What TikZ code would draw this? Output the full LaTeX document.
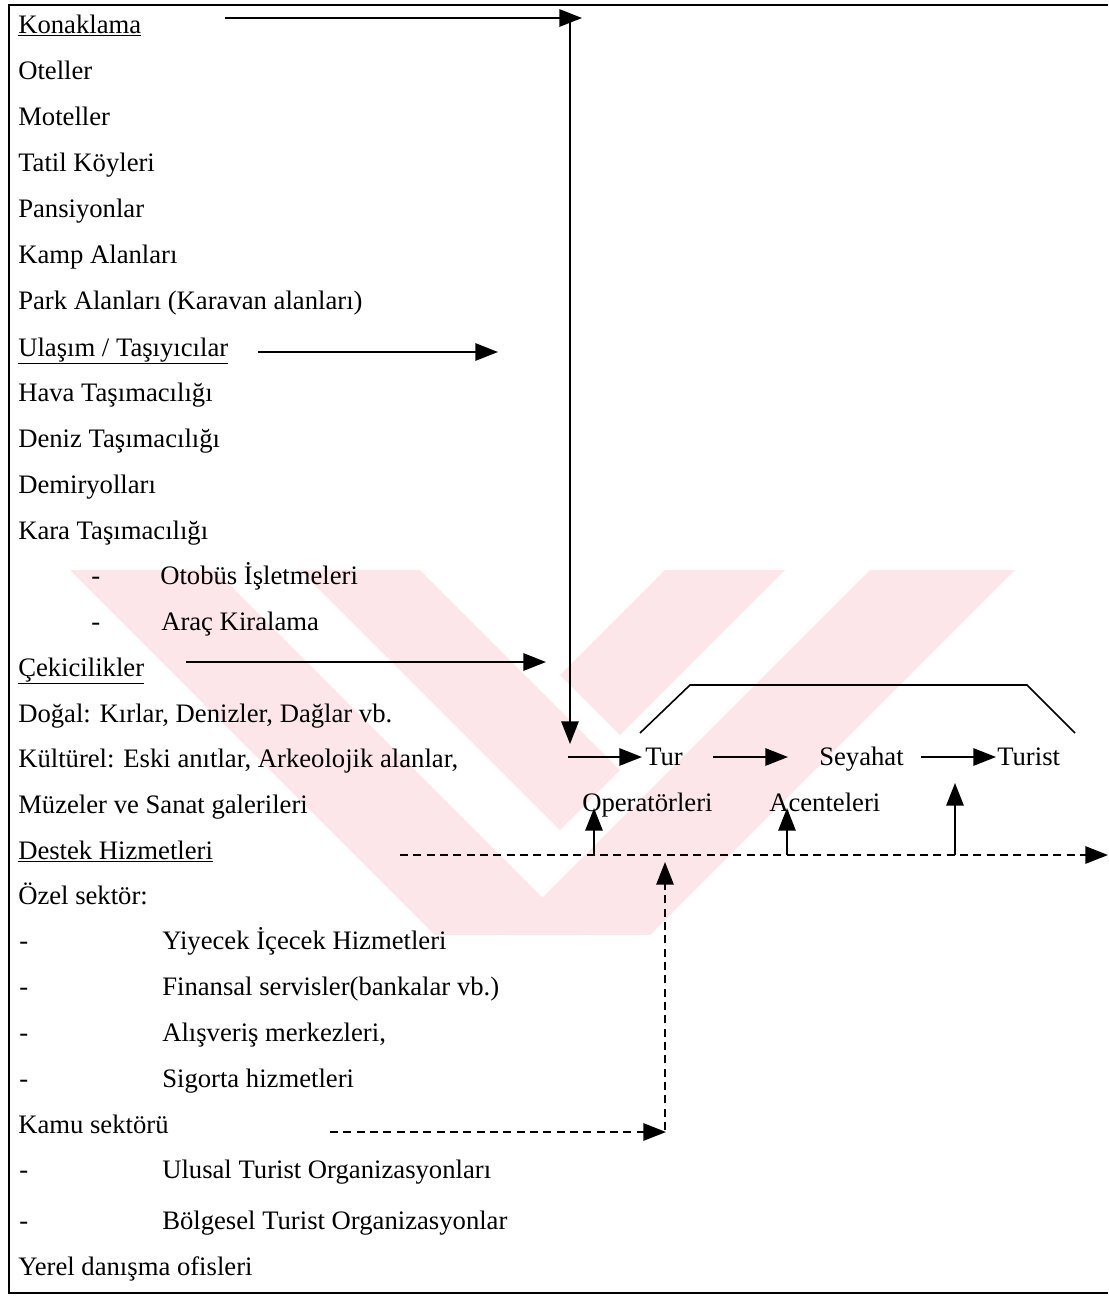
\documentclass[tikz,border=0pt]{standalone}
\usepackage{fontspec}
\setmainfont{Liberation Serif}
\usetikzlibrary{arrows.meta}
\definecolor{wm}{RGB}{252,230,234}
\begin{document}
\begin{tikzpicture}[x=0.75pt,y=-0.75pt,
  every node/.style={inner sep=0pt, font=\fontsize{20}{22}\selectfont},
  lbl/.style={anchor=base west},
  conn/.style={line width=1.5pt, -{Triangle[length=17pt,width=13pt]}},
  dconn/.style={line width=1.5pt, dash pattern=on 6pt off 4pt, -{Triangle[length=17pt,width=13pt]}},
  plain/.style={line width=1.2pt}]
\useasboundingbox (0,0) rectangle (1108,1297);
% watermark
\fill[wm] (70,570) -- (215,570) -- (580,935) -- (435,935) -- cycle;
\fill[wm] (1015,570) -- (870,570) -- (505,935) -- (650,935) -- cycle;
\fill[wm] (300,570) -- (420,570) -- (620,770) -- (560,830) -- cycle;
\fill[wm] (785,570) -- (665,570) -- (560,675) -- (620,735) -- cycle;
% frame
\draw[line width=2pt] (1108,5) -- (9,5) -- (9,1293) -- (1108,1293);
% texts
\node[lbl] (t1) at (18,33) {\underline{Konaklama}};
\node[lbl] (t2) at (18,79) {Oteller};
\node[lbl] (t3) at (18,125) {Moteller};
\node[lbl] (t4) at (18,171) {Tatil Köyleri};
\node[lbl] (t5) at (18,217) {Pansiyonlar};
\node[lbl] (t6) at (18,263) {Kamp Alanları};
\node[lbl] (t7) at (18,309) {Park Alanları (Karavan alanları)};
\node[lbl] (t8) at (18,356) {\underline{Ulaşım / Taşıyıcılar}};
\node[lbl] (t9) at (18,401) {Hava Taşımacılığı};
\node[lbl] (t10) at (18,447) {Deniz Taşımacılığı};
\node[lbl] (t11) at (18,493) {Demiryolları};
\node[lbl] (t12) at (18,539) {Kara Taşımacılığı};
\node[lbl] (d1) at (91,584) {-};
\node[lbl] (t13) at (160,584) {Otobüs İşletmeleri};
\node[lbl] (d2) at (91,630) {-};
\node[lbl] (t14) at (161,630) {Araç Kiralama};
\node[lbl] (t15) at (18,676) {\underline{Çekicilikler}};
\node[lbl] (t16) at (18,722) {Doğal: Kırlar, Denizler, Dağlar vb.};
\node[lbl] (t17) at (18,767) {Kültürel: Eski anıtlar, Arkeolojik alanlar,};
\node[lbl] (t18) at (18,813) {Müzeler ve Sanat galerileri};
\node[lbl] (t19) at (18,859) {\underline{Destek Hizmetleri}};
\node[lbl] (t20) at (18,904) {Özel sektör:};
\node[lbl] (d3) at (19,949) {-};
\node[lbl] (t21) at (162,949) {Yiyecek İçecek Hizmetleri};
\node[lbl] (d4) at (19,995) {-};
\node[lbl] (t22) at (162,995) {Finansal servisler(bankalar vb.)};
\node[lbl] (d5) at (19,1041) {-};
\node[lbl] (t23) at (162,1041) {Alışveriş merkezleri,};
\node[lbl] (d6) at (19,1087) {-};
\node[lbl] (t24) at (162,1087) {Sigorta hizmetleri};
\node[lbl] (t25) at (18,1133) {Kamu sektörü};
\node[lbl] (d7) at (19,1178) {-};
\node[lbl] (t26) at (162,1178) {Ulusal Turist Organizasyonları};
\node[lbl] (d8) at (19,1229) {-};
\node[lbl] (t27) at (162,1229) {Bölgesel Turist Organizasyonlar};
\node[lbl] (t28) at (18,1275) {Yerel danışma ofisleri};
% right side labels
\node[lbl] (tur) at (645,765) {Tur};
\node[lbl] (sey) at (819,765) {Seyahat};
\node[lbl] (turist) at (997,765) {Turist};
\node[lbl] (op) at (582,811) {Operatörleri};
\node[lbl] (ac) at (769,811) {Acenteleri};
% coordinates
\coordinate (k1) at (225,18);
\coordinate (k2) at (582,18);
\coordinate (v1) at (570,18);
\coordinate (v2) at (570,744);
\coordinate (u1) at (258,352);
\coordinate (u2) at (498,352);
\coordinate (c1) at (186,662);
\coordinate (c2) at (546,662);
\coordinate (a0) at (568,757);
\coordinate (a1) at (642,757);
\coordinate (b0) at (713,757);
\coordinate (b1) at (788,757);
\coordinate (e0) at (921,757);
\coordinate (e1) at (996,757);
\coordinate (h1) at (640,733);
\coordinate (h2) at (690,685);
\coordinate (h3) at (1027,685);
\coordinate (h4) at (1075,733);
\coordinate (s0) at (400,855);
\coordinate (s1) at (1108,855);
\coordinate (p1) at (594,855);
\coordinate (p1t) at (594,808);
\coordinate (p2) at (787,855);
\coordinate (p2t) at (787,808);
\coordinate (p3) at (955,855);
\coordinate (p3t) at (955,783);
\coordinate (m0) at (330,1132);
\coordinate (m1) at (666,1132);
\coordinate (n0) at (665,1130);
\coordinate (n1) at (665,862);
% connectors
\draw[conn] (k1) -- (k2);
\draw[conn] (v1) -- (v2);
\draw[conn] (u1) -- (u2);
\draw[conn] (c1) -- (c2);
\draw[conn] (a0) -- (a1);
\draw[conn] (b0) -- (b1);
\draw[conn] (e0) -- (e1);
\draw[plain] (h1) -- (h2) -- (h3) -- (h4);
\draw[dconn] (s0) -- (s1);
\draw[conn] (p1) -- (p1t);
\draw[conn] (p2) -- (p2t);
\draw[conn] (p3) -- (p3t);
\draw[dconn] (m0) -- (m1);
\draw[dconn] (n0) -- (n1);
\end{tikzpicture}
\end{document}
